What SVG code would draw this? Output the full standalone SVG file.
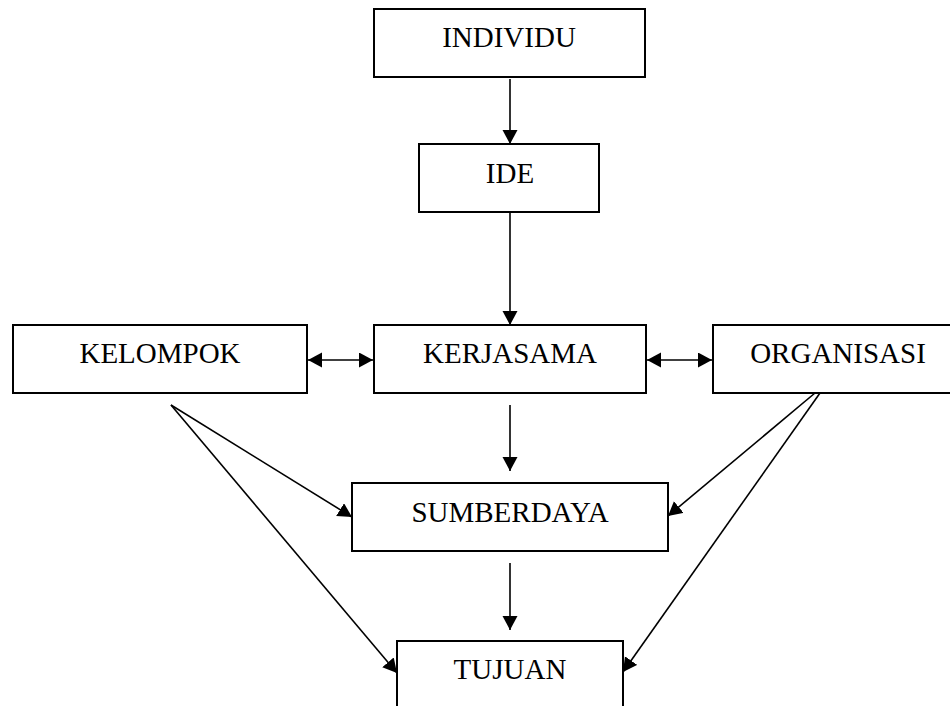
<svg xmlns="http://www.w3.org/2000/svg" width="950" height="706" viewBox="0 0 950 706">
  <style>
    .box { fill: #ffffff; stroke: #000000; stroke-width: 2; }
    .lbl { font-family: "Liberation Serif", "Times New Roman", serif; font-size: 29px; fill: #000000; text-anchor: middle; }
    .edge { fill: none; stroke: #000000; stroke-width: 1.6; }
  </style>
  <defs>
    <marker id="arrow" markerUnits="userSpaceOnUse" markerWidth="15" markerHeight="16" refX="14" refY="7.5" orient="auto-start-reverse">
      <path d="M0,0 L14,7.5 L0,15 Z" fill="#000000"/>
    </marker>
  </defs>
  <rect width="950" height="706" fill="#ffffff"/>

  <g id="connectors">
    <line class="edge" x1="510" y1="79" x2="510" y2="144" marker-end="url(#arrow)"/>
    <line class="edge" x1="510" y1="213" x2="510" y2="325" marker-end="url(#arrow)"/>
    <line class="edge" x1="308" y1="360" x2="373" y2="360" marker-start="url(#arrow)" marker-end="url(#arrow)"/>
    <line class="edge" x1="647" y1="360" x2="712" y2="360" marker-start="url(#arrow)" marker-end="url(#arrow)"/>
    <line class="edge" x1="510" y1="405" x2="510" y2="471" marker-end="url(#arrow)"/>
    <line class="edge" x1="510" y1="563" x2="510" y2="630" marker-end="url(#arrow)"/>
    <line class="edge" x1="171" y1="405" x2="352" y2="517" marker-end="url(#arrow)"/>
    <line class="edge" x1="171" y1="405" x2="397" y2="673" marker-end="url(#arrow)"/>
    <line class="edge" x1="815" y1="393" x2="668" y2="516" marker-end="url(#arrow)"/>
    <line class="edge" x1="820" y1="393" x2="623" y2="672" marker-end="url(#arrow)"/>
  </g>

  <g id="individu">
    <rect class="box" x="374" y="9" width="271" height="68"/>
    <text class="lbl" x="509" y="47">INDIVIDU</text>
  </g>
  <g id="ide">
    <rect class="box" x="419" y="144" width="180" height="68"/>
    <text class="lbl" x="510" y="183">IDE</text>
  </g>
  <g id="kelompok">
    <rect class="box" x="13" y="325" width="294" height="68"/>
    <text class="lbl" x="160" y="363">KELOMPOK</text>
  </g>
  <g id="kerjasama">
    <rect class="box" x="374" y="325" width="272" height="68"/>
    <text class="lbl" x="510" y="363">KERJASAMA</text>
  </g>
  <g id="organisasi">
    <rect class="box" x="713" y="325" width="250" height="68"/>
    <text class="lbl" x="838" y="363">ORGANISASI</text>
  </g>
  <g id="sumberdaya">
    <rect class="box" x="352" y="483" width="316" height="68"/>
    <text class="lbl" x="510" y="522">SUMBERDAYA</text>
  </g>
  <g id="tujuan">
    <rect class="box" x="397" y="641" width="226" height="80"/>
    <text class="lbl" x="510" y="679">TUJUAN</text>
  </g>
</svg>
